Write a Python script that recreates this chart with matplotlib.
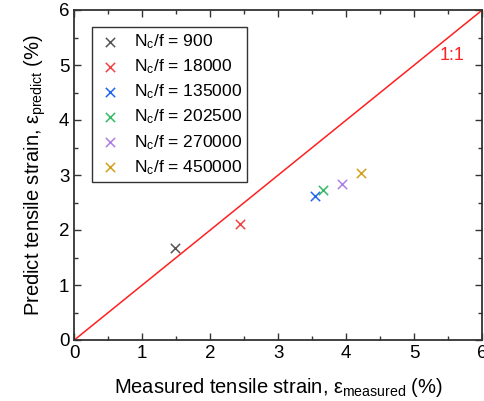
import matplotlib.pyplot as plt
import numpy as np
from matplotlib.ticker import MultipleLocator

plt.rcParams['font.family'] = ['Liberation Sans', 'DejaVu Sans']
plt.rcParams['mathtext.fontset'] = 'custom'
plt.rcParams['mathtext.rm'] = 'Liberation Sans'
plt.rcParams['mathtext.it'] = 'Liberation Sans'

# data
labels = ['900', '18000', '135000', '202500', '270000', '450000']
measured = [1.48, 2.44, 3.54, 3.66, 3.93, 4.21]
predict = [1.67, 2.11, 2.61, 2.73, 2.84, 3.03]
colors = ['#555555', '#ee4444', '#2266ee', '#33bb66', '#b07fe6', '#d4a01a']

fig = plt.figure(figsize=(4.84, 4.01), dpi=100)
ax = fig.add_axes([74.3 / 484, 61 / 401, 408 / 484, 330 / 401])

for x, y, c, lab in zip(measured, predict, colors, labels):
    ax.scatter(x, y, marker='x', s=45, color=c, linewidths=1.1,
               label=r'N$_\mathrm{c}$/f = ' + lab)

ax.plot([0, 6], [0, 6], color='#ff2020', lw=1.1)
ax.text(5.55, 5.18, '1:1', color='#ff2020', fontsize=13, ha='center', va='center')

ax.set_xlim(0, 6)
ax.set_ylim(0, 6)
ax.xaxis.set_major_locator(MultipleLocator(1))
ax.yaxis.set_major_locator(MultipleLocator(1))
ax.xaxis.set_minor_locator(MultipleLocator(0.5))
ax.yaxis.set_minor_locator(MultipleLocator(0.5))
ax.tick_params(which='both', direction='in', top=True, right=True,
               labelsize=13.5, color='#333333')
ax.tick_params(which='major', length=5, width=1)
ax.tick_params(which='minor', length=3, width=1)
for s in ax.spines.values():
    s.set_linewidth(1.3)
    s.set_color('#333333')

ax.set_xlabel(r'Measured tensile strain, $\varepsilon_\mathrm{measured}$ (%)', fontsize=14.5, labelpad=10)
ax.set_ylabel(r'Predict tensile strain, $\varepsilon_\mathrm{predict}$ (%)', fontsize=14.5, labelpad=8)

leg = ax.legend(loc='upper left', bbox_to_anchor=(0.043, 0.948), fontsize=12.5,
                fancybox=False, edgecolor='#333333', framealpha=1,
                handlelength=1.5, handletextpad=0.6, labelspacing=0.37,
                borderpad=0.3, borderaxespad=0)
leg.get_frame().set_linewidth(1.0)

fig.savefig('out.png', dpi=100)
